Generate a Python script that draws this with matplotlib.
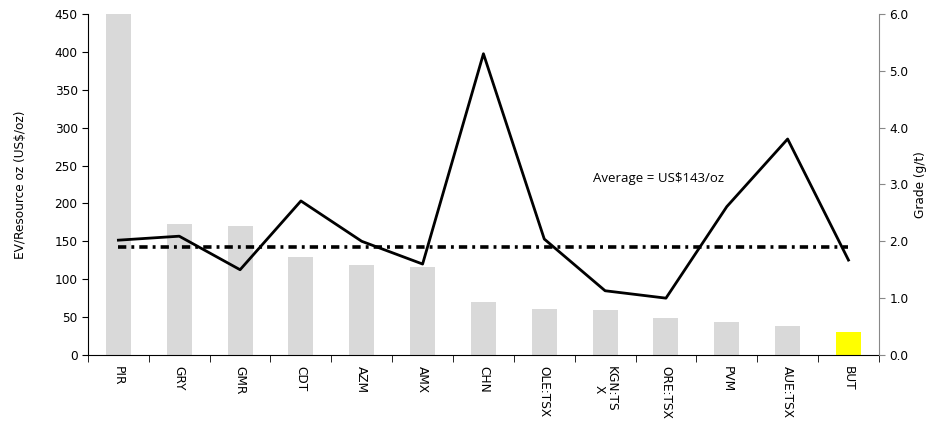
import matplotlib
matplotlib.use('Agg')
import matplotlib.pyplot as plt
import numpy as np

# data
tickers = ['PIR', 'GRY', 'GMR', 'CDT', 'AZM', 'AMX', 'CHN', 'OLE:TSX', 'KGN:TS\nX',
           'ORE:TSX', 'PVM', 'AUE:TSX', 'BUT']
ev_per_oz = [450, 173, 170, 129, 119, 116, 70, 61, 60, 49, 44, 38, 30]
grade = [2.02, 2.09, 1.50, 2.71, 2.00, 1.60, 5.30, 2.04, 1.13, 1.00, 2.61, 3.80, 1.67]
average = 143
bar_colors = ['#d9d9d9'] * 12 + ['#ffff00']

plt.rcParams['font.family'] = ['DejaVu Sans']
fs = 8.7

fig = plt.figure(figsize=(9.33, 4.23), dpi=100)
ax = fig.add_axes([0.0943, 0.1608, 0.8477, 0.8062])
x = np.arange(len(tickers))

ax.bar(x, ev_per_oz, width=0.41, color=bar_colors, zorder=1)
ax.plot([x[0], x[-1]], [average, average], color='black', lw=2.6,
        dashes=(2.3, 1.4, 0.8, 1.4), zorder=3)
ax.text(7.8, 233, 'Average = US$143/oz', fontsize=9.5, family=['Open Sans', 'DejaVu Sans'],
        va='center', ha='left')

ax.set_xlim(-0.5, len(tickers) - 0.5)
ax.set_ylim(0, 450)
ax.set_yticks(range(0, 451, 50))
ax.set_xticks(x)
ax.set_xticklabels(tickers, rotation=-90, fontsize=fs, va='top', ha='center', linespacing=0.9)
ax.set_xticks(np.arange(-0.5, len(tickers)), minor=True)
ax.tick_params(axis='x', which='major', length=0, pad=8)
ax.tick_params(axis='x', which='minor', length=5, direction='out', color='black')
ax.tick_params(axis='y', labelsize=fs, length=4, direction='out')
ax.set_ylabel('EV/Resource oz (US$/oz)', fontsize=fs, labelpad=20)
ax.spines['top'].set_visible(False)
ax.spines['right'].set_visible(False)

ax2 = ax.twinx()
ax2.plot(x, grade, color='black', lw=2.0, zorder=4)
ax2.set_ylim(0, 6)
ax2.set_yticks(np.arange(0, 6.01, 1.0))
ax2.set_yticklabels(['{:.1f}'.format(v) for v in np.arange(0, 6.01, 1.0)])
ax2.tick_params(axis='y', labelsize=fs, length=4, direction='out', color='#888888')
ax2.set_ylabel('Grade (g/t)', fontsize=fs, labelpad=4)
ax2.spines['right'].set_color('#888888')
ax2.spines['top'].set_visible(False)
ax2.spines['left'].set_visible(False)
ax2.spines['bottom'].set_visible(False)

fig.savefig('out.png', dpi=100)
